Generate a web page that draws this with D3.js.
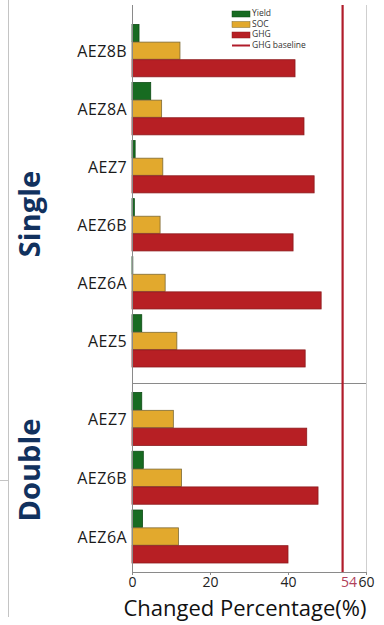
<!DOCTYPE html>
<html>
<head>
<meta charset="utf-8">
<script src="https://cdn.jsdelivr.net/npm/d3@7"></script>
<style>
  html, body { margin: 0; padding: 0; background: #fff; }
  svg { display: block; }
  text { font-family: "Open Sans", "Noto Sans", sans-serif; }
</style>
</head>
<body>
<svg id="chart" width="384" height="625"></svg>
<script>
// Cropping systems and agro-ecological zones
const singleZones = ["AEZ8B", "AEZ8A", "AEZ7", "AEZ6B", "AEZ6A", "AEZ5"];
const doubleZones = ["AEZ7", "AEZ6B", "AEZ6A"];

// Changed percentage (%) per zone, single cropping
const singleYield = [1.8, 4.8, 0.8, 0.6, 0.2, 2.5];
const singleSOC   = [12.3, 7.6, 7.9, 7.2, 8.5, 11.5];
const singleGHG   = [41.8, 44.1, 46.7, 41.3, 48.5, 44.4];

// Changed percentage (%) per zone, double cropping
const doubleYield = [2.5, 2.9, 2.7];
const doubleSOC   = [10.6, 12.7, 11.9];
const doubleGHG   = [44.8, 47.7, 40.0];

const seriesNames = ["Yield", "SOC", "GHG"];
const ghgBaseline = 54;
const xTicks = [0, 20, 40, 60];

const colors = { Yield: "#176b21", SOC: "#e2a92d", GHG: "#b71f24" };
const strokes = { Yield: "#0d4a14", SOC: "#7d6a35", GHG: "#8c1a1d" };

const svg = d3.select("#chart");

const plotLeft = 132, plotRight = 366, plotTop = 5, plotBottom = 572, plotSplit = 383;

const x = d3.scaleLinear().domain([0, 60]).range([plotLeft, plotRight]);

// Outer frame remnants on the left
svg.append("line").attr("x1", 8.5).attr("x2", 8.5).attr("y1", 0).attr("y2", 617)
  .attr("stroke", "#c4c4c4").attr("stroke-width", 1);
svg.append("line").attr("x1", 0).attr("x2", 8.5).attr("y1", 480.5).attr("y2", 480.5)
  .attr("stroke", "#c4c4c4").attr("stroke-width", 1);

// Right border of plot
svg.append("line").attr("x1", plotRight + 0.5).attr("x2", plotRight + 0.5).attr("y1", plotTop).attr("y2", plotBottom)
  .attr("stroke", "#cfcfcf").attr("stroke-width", 1);

const panels = [
  { name: "Single", zones: singleZones, values: [singleYield, singleSOC, singleGHG], range: [24, 367], labelY: 214 },
  { name: "Double", zones: doubleZones, values: [doubleYield, doubleSOC, doubleGHG], range: [392, 563], labelY: 470 }
];

panels.forEach(p => {
  const y = d3.scaleBand().domain(p.zones).range(p.range).paddingInner(0.09).paddingOuter(0);
  const inner = d3.scaleBand().domain(seriesNames).range([0, y.bandwidth()]).padding(0);

  const rows = p.zones.map((z, i) => ({
    zone: z,
    bars: seriesNames.map((s, k) => ({ series: s, value: p.values[k][i] }))
  }));

  const g = svg.append("g");
  const grp = g.selectAll("g.zone").data(rows).join("g")
    .attr("transform", d => `translate(0,${y(d.zone)})`);

  grp.selectAll("rect").data(d => d.bars).join("rect")
    .attr("x", x(0))
    .attr("y", d => inner(d.series) + 0.5)
    .attr("width", d => Math.max(0.8, x(d.value) - x(0)))
    .attr("height", inner.bandwidth() - 0.5)
    .attr("fill", d => colors[d.series])
    .attr("stroke", d => strokes[d.series])
    .attr("stroke-width", 0.8);

  // Zone labels
  g.selectAll("text.zone").data(p.zones).join("text")
    .attr("x", 127)
    .attr("y", d => y(d) + y.bandwidth() / 2 + 2)
    .attr("text-anchor", "end")
    .attr("dominant-baseline", "middle")
    .attr("font-size", 16)
    .attr("letter-spacing", 0.4)
    .attr("fill", "#1a1a1a")
    .text(d => d);

  // Panel label
  svg.append("text")
    .attr("transform", `translate(40,${p.labelY}) rotate(-90)`)
    .attr("text-anchor", "middle")
    .attr("font-size", 29)
    .attr("font-weight", 700)
    .attr("fill", "#11315e")
    .text(p.name);
});

// Separator between panels
svg.append("line").attr("x1", plotLeft).attr("x2", plotRight).attr("y1", plotSplit + 0.5).attr("y2", plotSplit + 0.5)
  .attr("stroke", "#8a8a8a").attr("stroke-width", 1);

// Y axis line
svg.append("line").attr("x1", plotLeft + 0.5).attr("x2", plotLeft + 0.5).attr("y1", plotTop).attr("y2", plotBottom)
  .attr("stroke", "#8a8a8a").attr("stroke-width", 1);

// GHG baseline
svg.append("line")
  .attr("x1", x(ghgBaseline)).attr("x2", x(ghgBaseline))
  .attr("y1", plotTop).attr("y2", plotBottom)
  .attr("stroke", "#b01c2a").attr("stroke-width", 2.2);

// X axis
const xAxis = d3.axisBottom(x).tickValues(xTicks).tickSize(3).tickPadding(2);
const ax = svg.append("g").attr("transform", `translate(0,${plotBottom})`).call(xAxis);
ax.select(".domain").attr("stroke", "#8a8a8a");
ax.selectAll(".tick line").attr("stroke", "#8a8a8a");
ax.selectAll(".tick text").attr("font-size", 14).attr("fill", "#222")
  .attr("font-family", "'Open Sans', sans-serif");

svg.append("text")
  .attr("x", x(ghgBaseline) - 1.5)
  .attr("y", plotBottom + 5)
  .attr("dy", "0.71em")
  .attr("font-size", 14)
  .attr("fill", "#b0405a")
  .text(ghgBaseline);

svg.append("text")
  .attr("x", 245)
  .attr("y", 616)
  .attr("text-anchor", "middle")
  .attr("font-size", 22)
  .attr("fill", "#111")
  .text("Changed Percentage(%)");

// Legend
const legendItems = ["Yield", "SOC", "GHG", "GHG baseline"];
const lg = svg.append("g").attr("transform", "translate(232,14)");
legendItems.forEach((name, i) => {
  const row = lg.append("g").attr("transform", `translate(0,${i * 10.5})`);
  if (name === "GHG baseline") {
    row.append("line").attr("x1", 0).attr("x2", 18).attr("y1", 0).attr("y2", 0)
      .attr("stroke", "#b01c2a").attr("stroke-width", 2);
  } else {
    row.append("rect").attr("x", 0).attr("y", -3).attr("width", 18).attr("height", 6)
      .attr("fill", colors[name]).attr("stroke", strokes[name]).attr("stroke-width", 0.5);
  }
  row.append("text").attr("x", 20).attr("y", 0)
    .attr("dominant-baseline", "middle")
    .attr("font-size", 8.5)
    .attr("fill", "#333")
    .text(name);
});
</script>
</body>
</html>
